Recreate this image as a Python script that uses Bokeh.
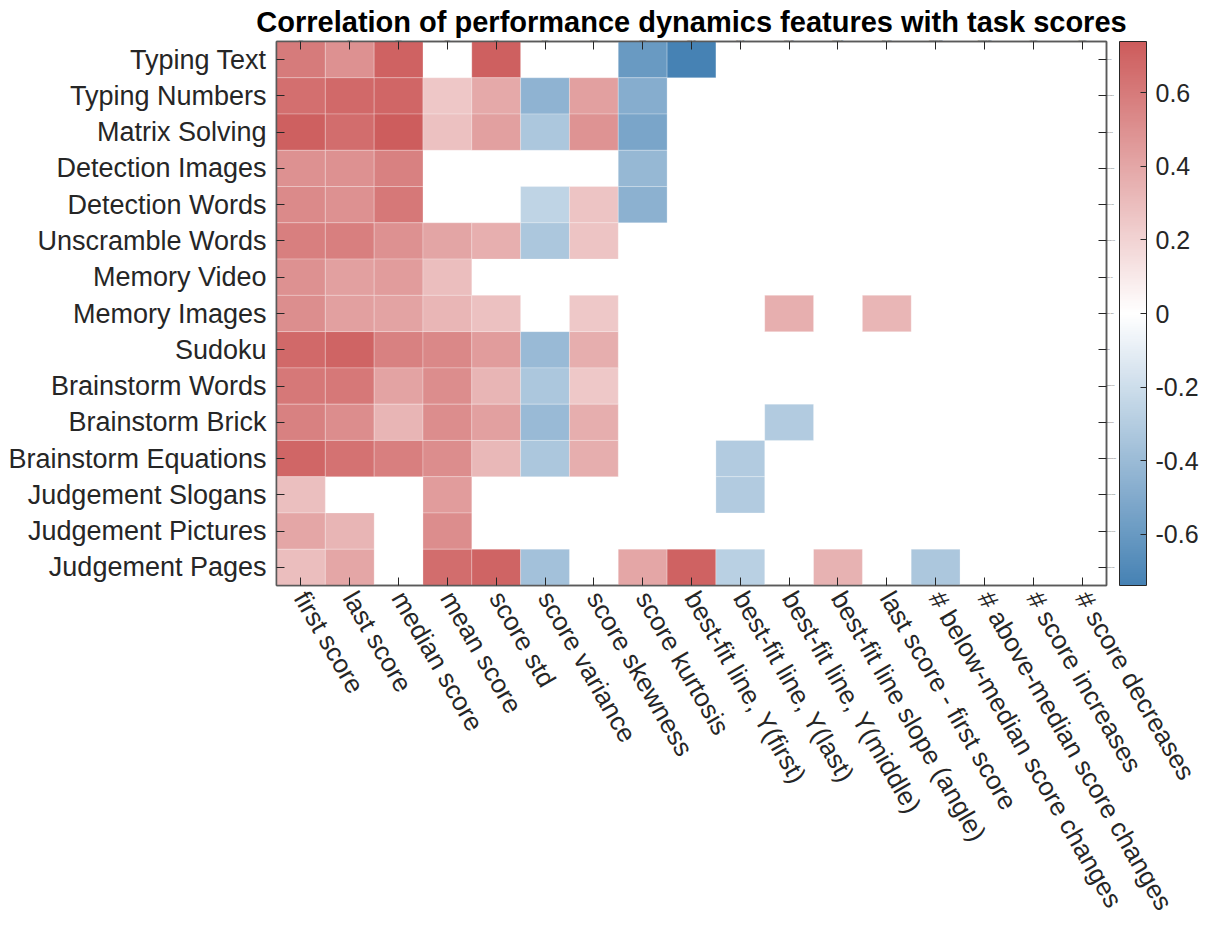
import math
from bokeh.plotting import figure
from bokeh.models import (ColumnDataSource, LinearColorMapper, ColorBar, FixedTicker,
                          CustomJSTickFormatter, CategoricalAxis, Title)
from bokeh.embed import file_html
from bokeh.resources import INLINE

tasks = ["Typing Text", "Typing Numbers", "Matrix Solving", "Detection Images",
         "Detection Words", "Unscramble Words", "Memory Video", "Memory Images",
         "Sudoku", "Brainstorm Words", "Brainstorm Brick", "Brainstorm Equations",
         "Judgement Slogans", "Judgement Pictures", "Judgement Pages"]

features = ["first score", "last score", "median score", "mean score", "score std",
            "score variance", "score skewness", "score kurtosis",
            "best-fit line, Y(first)", "best-fit line, Y(last)", "best-fit line, Y(middle)",
            "best-fit line slope (angle)", "last score - first score",
            "# below-median score changes", "# above-median score changes",
            "# score increases", "# score decreases"]

N = None
typing_text        = [0.60, 0.50, 0.71, N, 0.72, N, N, -0.60, -0.74, N, N, N, N, N, N, N, N]
typing_numbers     = [0.65, 0.68, 0.69, 0.26, 0.39, -0.45, 0.43, -0.48, N, N, N, N, N, N, N, N, N]
matrix_solving     = [0.72, 0.66, 0.73, 0.28, 0.43, -0.33, 0.49, -0.53, N, N, N, N, N, N, N, N, N]
detection_images   = [0.50, 0.50, 0.57, N, N, N, N, -0.42, N, N, N, N, N, N, N, N, N]
detection_words    = [0.53, 0.50, 0.61, N, N, -0.26, 0.27, -0.46, N, N, N, N, N, N, N, N, N]
unscramble_words   = [0.58, 0.58, 0.50, 0.41, 0.36, -0.33, 0.27, N, N, N, N, N, N, N, N, N, N]
memory_video       = [0.50, 0.43, 0.45, 0.30, N, N, N, N, N, N, N, N, N, N, N, N, N]
memory_images      = [0.51, 0.43, 0.42, 0.33, 0.28, N, 0.25, N, N, N, 0.36, N, 0.33, N, N, N, N]
sudoku             = [0.68, 0.70, 0.57, 0.54, 0.45, -0.41, 0.37, N, N, N, N, N, N, N, N, N, N]
brainstorm_words   = [0.61, 0.61, 0.42, 0.52, 0.34, -0.33, 0.25, N, N, N, N, N, N, N, N, N, N]
brainstorm_brick   = [0.57, 0.52, 0.34, 0.52, 0.43, -0.41, 0.37, N, N, N, -0.31, N, N, N, N, N, N]
brainstorm_equat   = [0.69, 0.64, 0.58, 0.52, 0.32, -0.33, 0.37, N, N, -0.31, N, N, N, N, N, N, N]
judgement_slogans  = [0.29, N, N, 0.45, N, N, N, N, N, -0.31, N, N, N, N, N, N, N]
judgement_pictures = [0.40, 0.34, N, 0.52, N, N, N, N, N, N, N, N, N, N, N, N, N]
judgement_pages    = [0.30, 0.40, N, 0.66, 0.70, -0.37, N, 0.40, 0.71, -0.28, N, 0.35, N, -0.33, N, N, N]

rows = [typing_text, typing_numbers, matrix_solving, detection_images, detection_words,
        unscramble_words, memory_video, memory_images, sudoku, brainstorm_words,
        brainstorm_brick, brainstorm_equat, judgement_slogans, judgement_pictures,
        judgement_pages]

xs, ys, vs = [], [], []
for t, r in zip(tasks, rows):
    for f, v in zip(features, r):
        if v is not None:
            xs.append(f); ys.append(t); vs.append(v)
src = ColumnDataSource(dict(x=xs, y=ys, v=vs))

# diverging palette steelblue -> white -> indianred
def lerp(c1, c2, t):
    return tuple(int(round(a + (b - a) * t)) for a, b in zip(c1, c2))
blue = (70, 130, 180); white = (255, 255, 255); red = (205, 92, 92)
pal = []
for i in range(128):
    pal.append("#%02x%02x%02x" % lerp(blue, white, i / 127))
for i in range(128):
    pal.append("#%02x%02x%02x" % lerp(white, red, i / 127))
mapper = LinearColorMapper(palette=pal, low=-0.74, high=0.74)

FONT = "Liberation Sans"
TXT = "#262626"
AX = "#5a5a5a"

p = figure(width=1212, height=926, x_range=features, y_range=list(reversed(tasks)),
           output_backend="svg", toolbar_location=None,
           min_border_left=276, min_border_top=41, min_border_right=106, min_border_bottom=341)
p.title = Title(text="Correlation of performance dynamics features with task scores",
                align="center", text_font=FONT, text_font_size="29px",
                text_font_style="bold", text_color="black", offset=0, standoff=0)

p.rect(x="x", y="y", width=1, height=1, source=src,
       fill_color={"field": "v", "transform": mapper},
       line_color="white", line_alpha=0.25, line_width=1)

p.grid.visible = False
p.outline_line_color = AX
p.outline_line_width = 1.5
p.background_fill_color = "white"

for ax in (p.xaxis[0], p.yaxis[0]):
    ax.major_label_text_font = FONT
    ax.major_label_text_color = TXT
    ax.axis_line_color = AX
    ax.axis_line_width = 1.5
    ax.major_tick_in = 8
    ax.major_tick_out = 0
    ax.major_tick_line_color = TXT
    ax.major_tick_line_width = 1
    ax.minor_tick_line_color = None
p.yaxis[0].major_label_text_font_size = "27px"
p.xaxis[0].major_label_text_font_size = "26px"
p.yaxis[0].major_label_standoff = 10
p.xaxis[0].major_label_standoff = 8
p.xaxis[0].major_label_orientation = -math.pi / 3

for side, factors in (("above", features), ("right", tasks)):
    a = CategoricalAxis()
    a.major_label_overrides = {f: "" for f in factors}
    a.major_label_text_font_size = "1px"
    a.major_label_standoff = 0
    a.axis_line_color = AX
    a.axis_line_width = 1.5
    a.major_tick_in = 8
    a.major_tick_out = 0
    a.major_tick_line_color = TXT
    p.add_layout(a, side)

cb = ColorBar(color_mapper=mapper, width=27,
              ticker=FixedTicker(ticks=[-0.6, -0.4, -0.2, 0, 0.2, 0.4, 0.6]),
              formatter=CustomJSTickFormatter(code="return Math.abs(tick) < 1e-9 ? '0' : tick.toFixed(1);"),
              major_label_text_font=FONT, major_label_text_font_size="25px",
              major_label_text_color=TXT, label_standoff=9,
              major_tick_in=6, major_tick_out=0, major_tick_line_color=TXT,
              bar_line_color=TXT, bar_line_width=1,
              padding=0, margin=0, border_line_color=None, background_fill_color=None)
p.add_layout(cb, "right")

open("out.html", "w").write(file_html(p, INLINE))
